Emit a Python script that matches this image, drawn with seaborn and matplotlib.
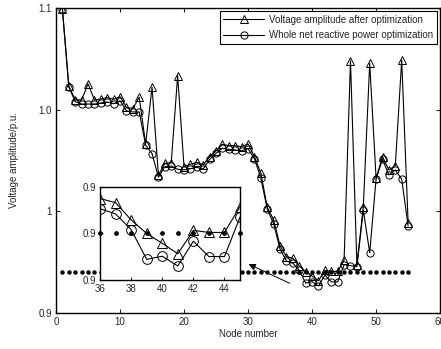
import numpy as np
import pandas as pd
import matplotlib
matplotlib.use("Agg")
import matplotlib.pyplot as plt
import seaborn as sns

# ---- data ----
nodes = list(range(1, 56))
v_after = [1.0991, 1.0489, 1.0397, 1.0397, 1.0502, 1.0397, 1.0403, 1.0412, 1.0401, 1.0418,
           1.0349, 1.0340, 1.0414, 1.0108, 1.0480, 0.9903, 0.9982, 0.9986, 1.0556, 0.9959,
           0.9975, 0.9988, 0.9972, 1.0025, 1.0062, 1.0106, 1.0097, 1.0097, 1.0090, 1.0108,
           1.0025, 0.9916, 0.9693, 0.9610, 0.9441, 0.9370, 0.9358, 0.9309, 0.9270, 0.9242,
           0.9212, 0.9279, 0.9273, 0.9273, 0.9347, 1.0654, 0.9315, 0.9695, 1.0637, 0.9883,
           1.0025, 0.9938, 0.9966, 1.0659, 0.9592]
v_whole = [1.0991, 1.0482, 1.0386, 1.0370, 1.0370, 1.0370, 1.0377, 1.0384, 1.0372, 1.0392,
           1.0325, 1.0318, 1.0318, 1.0100, 1.0045, 0.9890, 0.9959, 0.9964, 0.9942, 0.9938,
           0.9946, 0.9955, 0.9944, 1.0008, 1.0047, 1.0080, 1.0073, 1.0069, 1.0064, 1.0077,
           1.0012, 0.9883, 0.9680, 0.9584, 0.9418, 0.9341, 0.9326, 0.9281, 0.9196, 0.9205,
           0.9177, 0.9248, 0.9204, 0.9204, 0.9317, 0.9310, 0.9304, 0.9675, 0.9395, 0.9879,
           1.0008, 0.9905, 0.9938, 0.9877, 0.9570]
v_limit = 0.927
limit_vals = [v_limit] * len(nodes)

label_after = "Voltage amplitude after optimization"
label_whole = "Whole net reactive power optimization"

main_yticks = [0.9, 0.96667, 1.03333, 1.1]
main_yticklabels = ["0.9", "1", "1.0", "1.1"]
main_xticks = [0, 10, 20, 30, 40, 50, 60]
inset_xticks = [36, 38, 40, 42, 44]
inset_yticks = [v_limit - 0.0133, v_limit, v_limit + 0.0133]
inset_yticklabels = ["0.9", "0.9", "0.9"]

df = pd.DataFrame({"node": nodes, "after": v_after, "whole": v_whole, "limit": limit_vals})

sns.set_style("ticks")
plt.rcParams['font.family'] = ['Liberation Sans', 'DejaVu Sans']
plt.rcParams['xtick.direction'] = 'in'
plt.rcParams['ytick.direction'] = 'in'

fig = plt.figure(figsize=(4.41, 3.49), dpi=100)
ax = fig.add_axes([0.127, 0.1032, 0.871, 0.874])

lw = 0.8
ms = 5.2
sns.lineplot(data=df, x="node", y="after", ax=ax, color="black", lw=lw, marker="^",
             markersize=ms, markerfacecolor="none", markeredgecolor="black",
             markeredgewidth=0.7, label=label_after)
sns.lineplot(data=df, x="node", y="whole", ax=ax, color="black", lw=lw, marker="o",
             markersize=ms, markerfacecolor="none", markeredgecolor="black",
             markeredgewidth=0.7, label=label_whole)
ax.plot(df["node"], df["limit"], ls="none", marker="o", markersize=2.2, color="black")

ax.set_xlim(0, 60)
ax.set_ylim(0.9, 1.1)
ax.set_xticks(main_xticks)
ax.set_yticks(main_yticks)
ax.set_yticklabels(main_yticklabels)
ax.tick_params(axis="both", labelsize=7, length=3, width=0.8, top=True, right=True, pad=3)
for s in ax.spines.values():
    s.set_linewidth(1.0)
    s.set_color("black")
ax.set_xlabel("Node number", fontsize=7, labelpad=1)
ax.set_ylabel("Voltage amplitude/p.u.", fontsize=7, labelpad=14)

leg = ax.legend(loc="upper right", fontsize=7, frameon=True, fancybox=False,
                edgecolor="black", framealpha=1, handlelength=4.2, borderpad=0.35,
                labelspacing=0.55, borderaxespad=0.35, handletextpad=0.5)
leg.get_frame().set_linewidth(0.8)

ax.annotate("", xy=(29.7, 0.9328), xytext=(36.9, 0.9187),
            arrowprops=dict(arrowstyle="-|>", color="black", lw=0.7,
                            mutation_scale=10))

# ---- inset ----
axin = fig.add_axes([0.2268, 0.1977, 0.3175, 0.2665])
sub = df[(df["node"] >= 36) & (df["node"] <= 45)]
sns.lineplot(data=sub, x="node", y="after", ax=axin, color="black", lw=lw, marker="^",
             markersize=7, markerfacecolor="none", markeredgecolor="black",
             markeredgewidth=0.7, legend=False)
sns.lineplot(data=sub, x="node", y="whole", ax=axin, color="black", lw=lw, marker="o",
             markersize=7, markerfacecolor="none", markeredgecolor="black",
             markeredgewidth=0.7, legend=False)
axin.plot(sub["node"], sub["limit"], ls="none", marker="o", markersize=2.4,
          color="black", clip_on=False)
axin.set_xlim(36, 45)
axin.set_ylim(v_limit - 0.0133, v_limit + 0.0133)
axin.set_xticks(inset_xticks)
axin.set_yticks(inset_yticks)
axin.set_yticklabels(inset_yticklabels)
axin.set_xlabel("")
axin.set_ylabel("")
axin.tick_params(axis="both", labelsize=7, length=2, width=0.8, pad=3)
for s in axin.spines.values():
    s.set_linewidth(1.0)
    s.set_color("black")
axin.set_facecolor("white")

fig.savefig("out.png", dpi=100)
